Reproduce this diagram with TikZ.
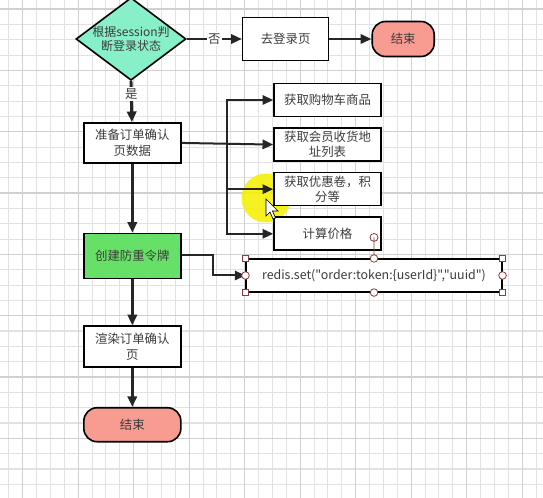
\documentclass[tikz,border=0pt]{standalone}
\usepackage{fontspec}
\setmainfont{Noto Sans CJK SC}
\newfontfamily\rawfont{Noto Sans CJK SC}
\usepackage{xcolor}
\usetikzlibrary{arrows.meta,positioning,shapes.geometric}
\definecolor{mint}{RGB}{136,240,200}
\definecolor{leaf}{RGB}{102,224,102}
\definecolor{salmon}{RGB}{248,156,146}
\definecolor{txt}{RGB}{60,60,60}
\definecolor{handlered}{RGB}{140,60,60}
\definecolor{gridlo}{RGB}{226,226,226}
\definecolor{gridhi}{RGB}{208,208,208}
\definecolor{hilite}{RGB}{246,240,10}

\begin{document}
\begin{tikzpicture}[x=0.75pt, y=-0.75pt,
      box/.style={draw=black, line width=1.2pt, fill=white, align=center, text=txt, inner sep=0.5pt,
        minimum width=72.75pt, minimum height=30pt, font=\fontsize{9.3}{11.5}\selectfont},
      side/.style={box, minimum width=80.25pt, minimum height=24.75pt},
      term/.style={box, fill=salmon, rounded corners=10pt},
      decision/.style={diamond, draw=black, line width=1.2pt, fill=mint, inner sep=0pt,
        minimum width=82.5pt, minimum height=62pt},
      arr/.style={-{Triangle[length=8pt, width=7pt]}, line width=1.5pt, draw=black!85},
      arrmain/.style={arr, line width=2.2pt},
      lbl/.style={fill=white, inner sep=1pt, text=txt, font=\fontsize{9.3}{11}\selectfont},
      handle/.style={draw=handlered, fill=white, line width=0.6pt},
    ]
      \useasboundingbox (0,0) rectangle (543,498);
      \clip (0,0) rectangle (543,498);
      \fill[white] (0,0) rectangle (543,498);
      \foreach \i in {0,...,38} \draw[gridlo, line width=0.8pt] ({8.8+13.875*\i},0) -- ++(0,498);
      \foreach \i in {0,...,32} \draw[gridlo, line width=0.8pt] (0,{9.1+15.33*\i}) -- ++(543,0);
      \foreach \i in {0,...,9} \draw[gridhi, line width=1pt] ({22.7+55.5*\i},0) -- ++(0,498);
      \foreach \i in {0,...,8} \draw[gridhi, line width=1pt] (0,{9.1+61.32*\i}) -- ++(543,0);

      \fill[hilite, opacity=0.9] (266,198) circle (24.5);

      \node[decision, label={[align=center, text=txt, font=\fontsize{9}{10.8}\selectfont]center:根据session判\\断登录状态}] (check) at (131,39) {};
      \node[box, right=41.25pt of check, minimum width=64.5pt, minimum height=32.25pt] (login) {去登录页};
      \node[term, right=31.5pt of login, minimum width=46.5pt, minimum height=26.25pt] (endtop) {结束};

      \node[box, below=30.75pt of check, xshift=1pt] (prep) {准备订单确认\\页数据};
      \node[box, fill=leaf, below=51.75pt of prep, minimum height=33.75pt] (token) {创建防重令牌};
      \node[box, below=34.5pt of token, minimum height=30.75pt] (render) {渲染订单确认\\页};
      \node[term, below=29.25pt of render, minimum height=25.5pt] (endbot) {结束};

      \node[side] (cart) at (327.5,100) {获取购物车商品};
      \node[side, below=7.5pt of cart] (addr) {获取会员收货地\\址列表};
      \node[side, below=7.5pt of addr] (coupon) {获取优惠卷，积\\分等};
      \node[side, below=7.5pt of coupon] (price) {计算价格};

      \node[box, line width=0.8pt, minimum width=192pt, minimum height=24.75pt,
        font=\rawfont\fontsize{9.3}{10}\selectfont] (redis) at (374,275.5) {redis.set("order:token:\{userId\}","uuid")};

      \coordinate (split) at (227,143);
      \coordinate (bend) at (213,255);

      \draw[arr] (check.east) -- node[lbl] {否} (login);
      \draw[arr] (login) -- (endtop);
      \draw[arrmain] (check.south) -- node[lbl, pos=0.32] {是} (prep);
      \draw[arrmain] (prep) -- (token);
      \draw[arrmain] (token) -- (render);
      \draw[arrmain] (render) -- (endbot);

      \draw[arr] (prep.east) -- (addr.west);
      \draw[arr] (split) |- (cart.west);
      \draw[arr] (split) |- (coupon.west);
      \draw[arr] (split) |- (price.west);
      \draw[arr] (token.east |- bend) -- (bend) |- (redis.west);

      \draw[handle] (redis.north) -- ++(0,-21) circle (4);
      \foreach \a in {north west, north east, south west, south east}
        \draw[handle] (redis.\a) ++(-3,-3) rectangle ++(6,6);
      \foreach \a in {north, south, west, east}
        \draw[handle] (redis.\a) circle (3.8);

      \filldraw[fill=white, draw=black, line width=0.5pt] (266,199) -- ++(0,17) -- ++(4,-4)
        -- ++(3,7) -- ++(2.5,-1) -- ++(-3,-7) -- ++(5.5,0) -- cycle;
    \end{tikzpicture}
\end{document}
